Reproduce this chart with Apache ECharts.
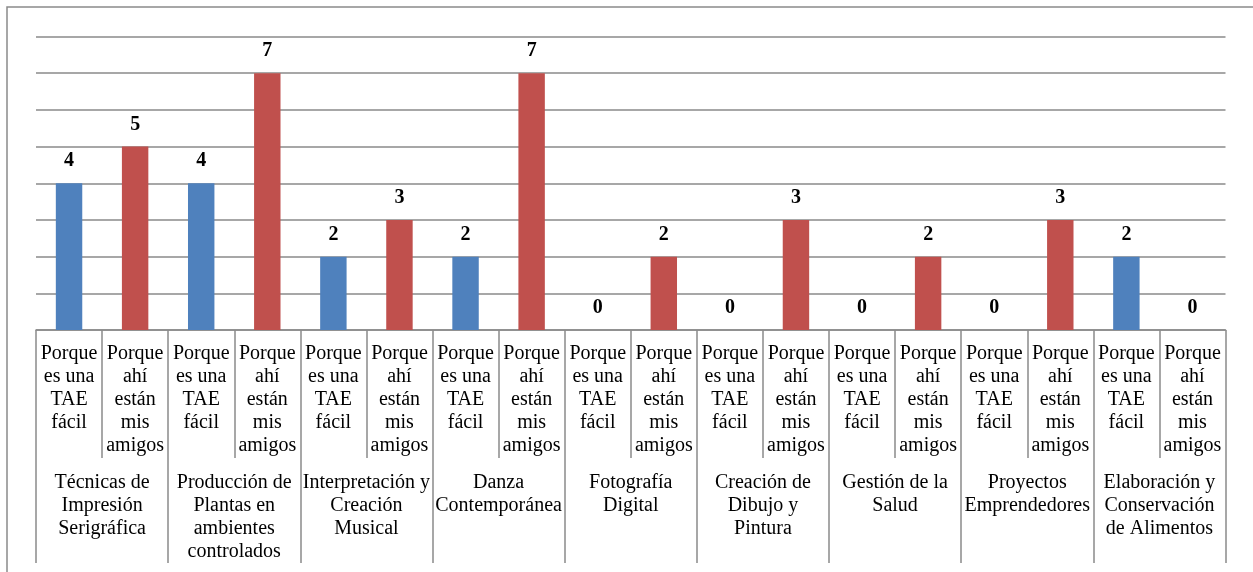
<!DOCTYPE html>
<html><head><meta charset="utf-8">
<script src="https://cdn.jsdelivr.net/npm/echarts@6/dist/echarts.min.js"></script>
<style>html,body{margin:0;padding:0;background:#fff}#c{width:1253px;height:572px}</style>
</head><body><div id="c"></div>
<script>
const groups = ["Técnicas de\nImpresión\nSerigráfica","Producción de\nPlantas en\nambientes\ncontrolados","Interpretación y\nCreación\nMusical","Danza\nContemporánea","Fotografía\nDigital","Creación de\nDibujo y\nPintura","Gestión de la\nSalud","Proyectos\nEmprendedores","Elaboración y\nConservación\nde Alimentos"];
const reasons = ["Porque\nes una\nTAE\nfácil","Porque\nahí\nestán\nmis\namigos"];
const tae = [4,4,2,2,0,0,0,0,2];
const amigos = [5,7,3,7,2,3,2,3,0];
const yTicks = [0,1,2,3,4,5,6,7,8];
const colors = ['#4F81BD','#C0504D'];

const innerCats = [], barData = [];
groups.forEach((g,i)=>{
  innerCats.push(reasons[0]); barData.push({value:tae[i], itemStyle:{color:colors[0]}});
  innerCats.push(reasons[1]); barData.push({value:amigos[i], itemStyle:{color:colors[1]}});
});
const font = '"Liberation Serif","Times New Roman",serif';
const chart = echarts.init(document.getElementById('c'));
chart.setOption({
  animation:false,
  graphic:[{type:'rect',shape:{x:7,y:7,width:1400,height:700},style:{fill:'none',stroke:'#8a8a8a',lineWidth:1.5}}],
  grid:{left:36,right:27.5,top:36.5,bottom:242,containLabel:false},
  xAxis:[{
    type:'category',data:innerCats,position:'bottom',
    axisLine:{show:true,lineStyle:{color:'#8a8a8a',width:1.5}},
    axisTick:{show:true,interval:0,length:128,lineStyle:{color:'#8a8a8a',width:1.5}},
    axisLabel:{interval:0,margin:12,fontFamily:font,fontSize:20,lineHeight:23,color:'#000',align:'center'}
  },{
    type:'category',data:groups,position:'bottom',
    axisLine:{show:false},
    axisTick:{show:true,interval:0,length:233,lineStyle:{color:'#8a8a8a',width:1.5}},
    axisLabel:{interval:0,margin:141,fontFamily:font,fontSize:20,lineHeight:23,color:'#000',align:'center',verticalAlign:'top'}
  }],
  yAxis:{type:'value',min:yTicks[0],max:yTicks[yTicks.length-1],interval:1,
    axisLine:{show:false},axisTick:{show:false},axisLabel:{show:false},
    splitLine:{show:true,lineStyle:{color:'#8a8a8a',width:1.5}}},
  series:[{type:'bar',xAxisIndex:0,data:barData,barWidth:'40%',
    label:{show:true,position:'top',distance:12,fontFamily:font,fontSize:20,fontWeight:'bold',color:'#000'}}]
});
</script></body></html>
